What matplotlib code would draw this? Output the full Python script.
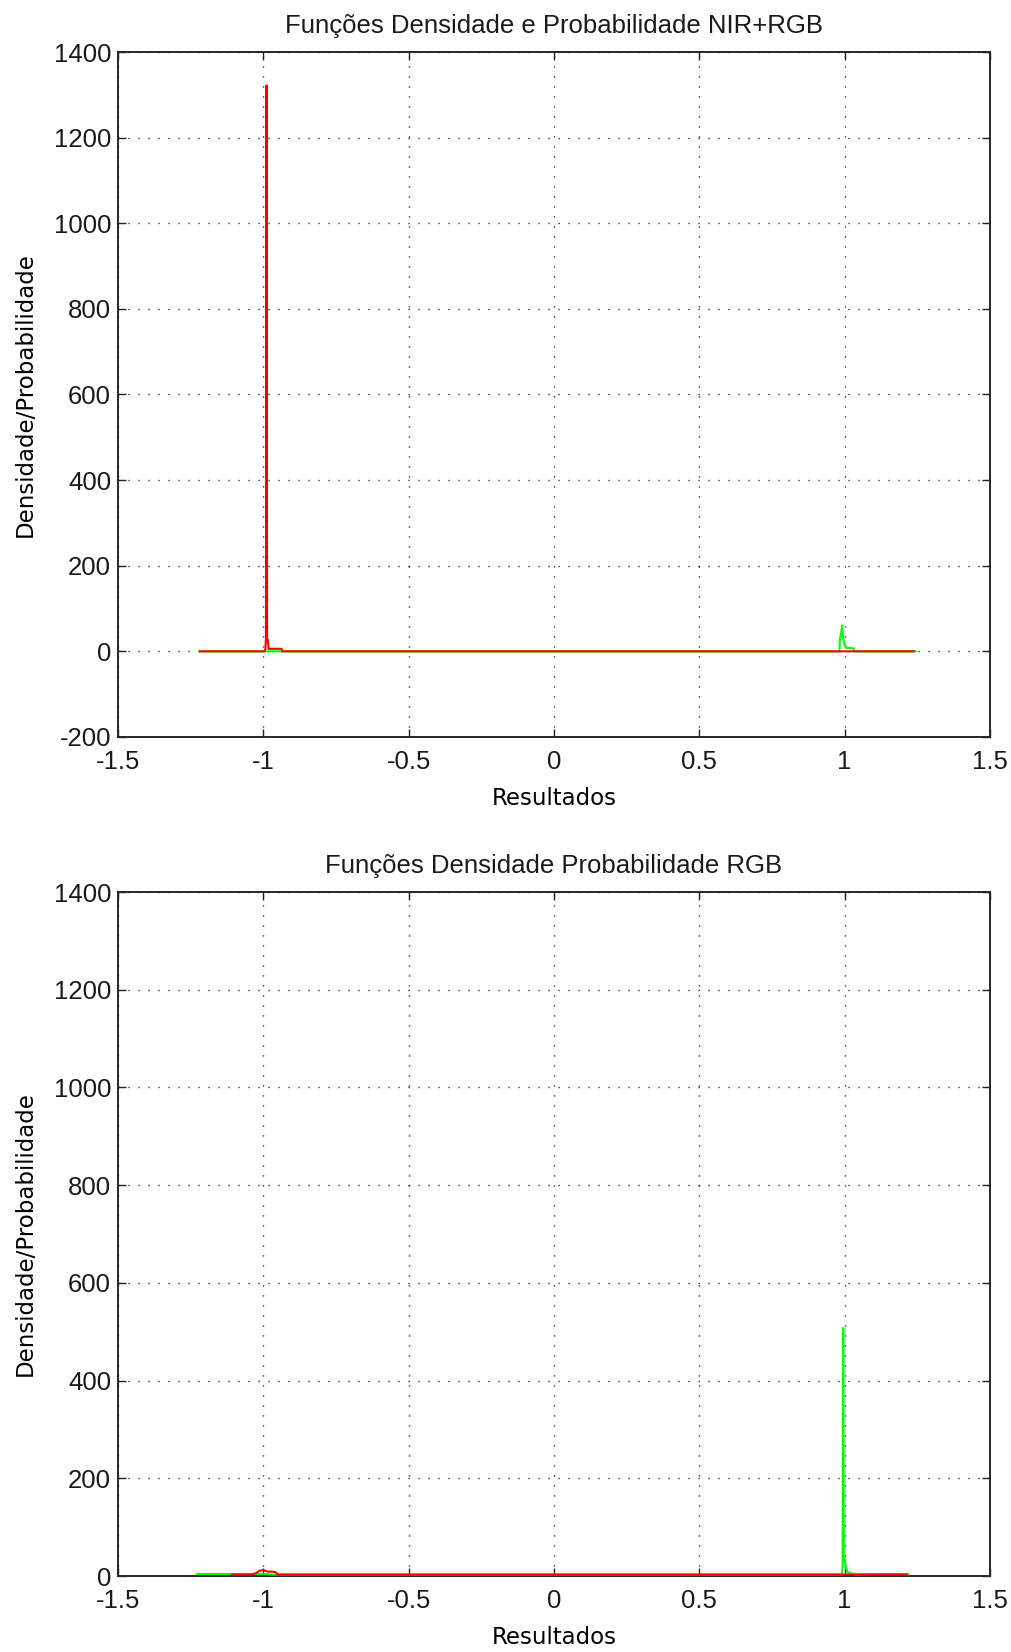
import matplotlib
matplotlib.use("Agg")
import matplotlib.pyplot as plt

# ---- data -------------------------------------------------------------
# NIR+RGB: red density (class -1) and green density (class +1)
top_red_x = [-1.218, -0.996, -0.993, -0.991, -0.989, -0.987, -0.985, -0.982, -0.960, -0.937, -0.935, 1.238]
top_red_y = [0, 0, 5, 30, 1322, 30, 28, 6, 6, 6, 0, 0]
top_green_x = [-1.22, 0.982, 0.984, 0.987, 0.991, 0.995, 1.000, 1.005, 1.015, 1.030, 1.034, 1.245]
top_green_y = [0, 0, 33, 35, 60, 30, 15, 8, 8, 7, 0, 0]

# RGB only
bot_red_x = [-1.108, -1.04, -1.025, -1.012, -1.000, -0.985, -0.970, -0.958, -0.95, 0.9, 1.215]
bot_red_y = [3, 3, 6, 11, 12, 9, 9, 8, 3, 3, 3]
bot_green_x = [-1.228, -1.108, -0.99, -0.975, 0.990, 0.993, 0.995, 0.997, 1.000, 1.004, 1.010,
               1.030, 1.035, 1.11, 1.125, 1.21, 1.22]
bot_green_y = [4, 4, 4, 3, 3, 20, 508, 37, 35, 18, 8, 4, 3, 4, 4, 4, 3]

xticks = [-1.5, -1, -0.5, 0, 0.5, 1, 1.5]
xtick_labels = ["-1.5", "-1", "-0.5", "0", "0.5", "1", "1.5"]
top_yticks = [-200, 0, 200, 400, 600, 800, 1000, 1200, 1400]
bot_yticks = [0, 200, 400, 600, 800, 1000, 1200, 1400]

titles = ["Funções Densidade e Probabilidade NIR+RGB",
          "Funções Densidade Probabilidade RGB"]
xlabel = "Resultados"
ylabel = "Densidade/Probabilidade"

RED = "#ff0000"
GREEN = "#00ff00"
tick_font = "Liberation Sans"
label_font = "DejaVu Sans"

fig = plt.figure(figsize=(10.11, 16.52), dpi=100)
ax_top = fig.add_axes([0.1167, 0.5539, 0.8625, 0.4146])
ax_bot = fig.add_axes([0.1167, 0.0460, 0.8625, 0.4140])


def style(ax, yticks, ylim, title):
    ax.set_xlim(-1.5, 1.5)
    ax.set_ylim(*ylim)
    ax.set_xticks(xticks)
    ax.set_xticklabels(xtick_labels)
    ax.set_yticks(yticks)
    ax.set_yticklabels([str(v) for v in yticks])
    ax.grid(True, color="black", linestyle=(0, (0.8, 6.4)), linewidth=1.0)
    ax.set_axisbelow(True)
    ax.tick_params(direction="in", length=6, width=1.0, top=True, right=True,
                   labelsize=18.5, color="#222222")
    ax.tick_params(axis="x", pad=9.5)
    ax.tick_params(axis="y", pad=5)
    for lab in ax.get_xticklabels() + ax.get_yticklabels():
        lab.set_fontfamily(tick_font)
        lab.set_color("#1a1a1a")
    for sp in ax.spines.values():
        sp.set_linewidth(1.4)
        sp.set_color("#262626")
    ax.set_title(title, fontsize=18.5, family=tick_font, color="#1a1a1a", pad=14)
    ax.set_xlabel(xlabel, fontsize=16.5, family=label_font, labelpad=9)
    ax.set_ylabel(ylabel, fontsize=16.5, family=label_font, labelpad=12)


# NIR+RGB panel: green first, red drawn over it
ax_top.plot(top_green_x, top_green_y, color=GREEN, linewidth=1.5)
ax_top.plot(top_red_x, top_red_y, color=RED, linewidth=1.5)
style(ax_top, top_yticks, (-200, 1400), titles[0])

# RGB panel
ax_bot.plot(bot_green_x, bot_green_y, color=GREEN, linewidth=1.5, clip_on=False, zorder=3)
ax_bot.plot(bot_red_x, bot_red_y, color=RED, linewidth=1.5, clip_on=False, zorder=3.1)
style(ax_bot, bot_yticks, (0, 1400), titles[1])

fig.savefig("out.png", dpi=100)
